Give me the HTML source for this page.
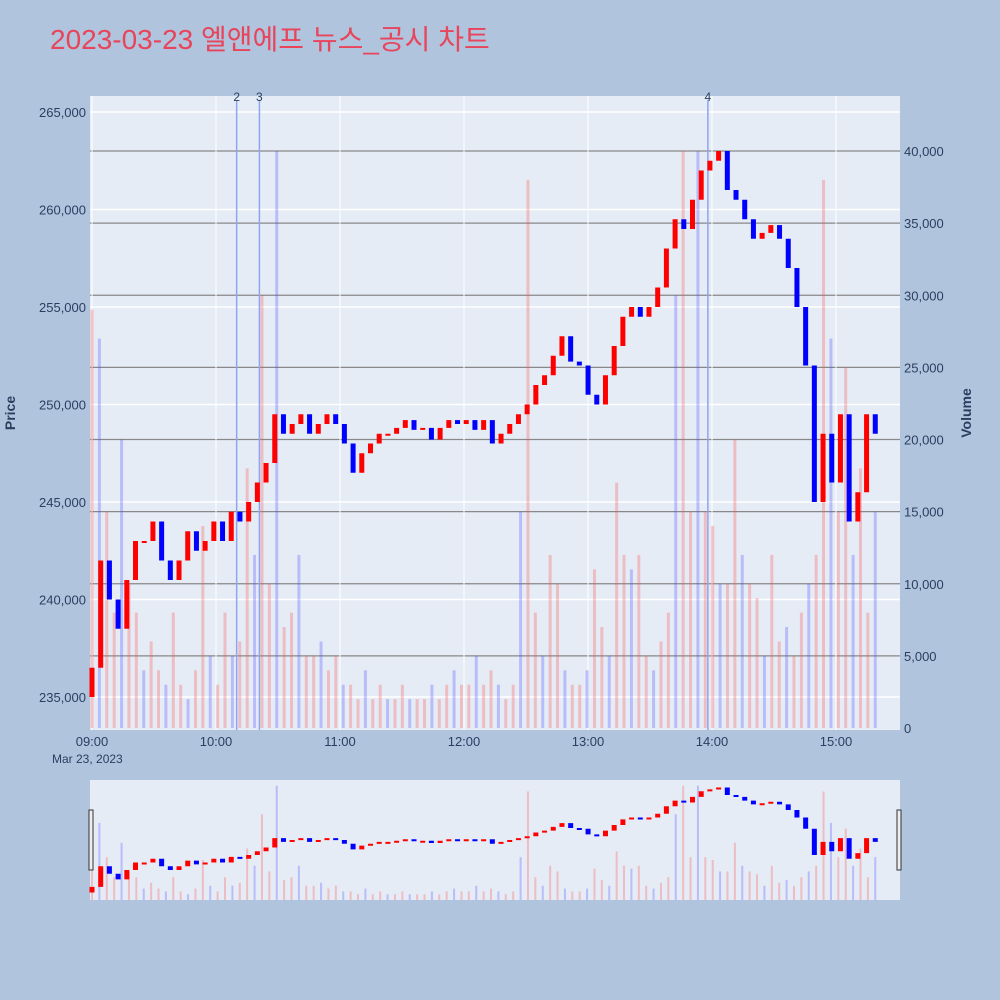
<!DOCTYPE html>
<html><head><meta charset="utf-8"><style>
body{margin:0;background:#b0c4de;font-family:"Liberation Sans","Noto Sans CJK KR",sans-serif;}
svg{display:block}
</style></head><body>
<svg id="chart" width="1000" height="1000" xmlns="http://www.w3.org/2000/svg" font-family="Liberation Sans, Noto Sans CJK KR, sans-serif">
<rect width="1000" height="1000" fill="#b0c4de"/>
<text x="50" y="49" font-size="28" fill="#e8445a">2023-03-23 엘앤에프 뉴스_공시 차트</text>
<rect x="90" y="96" width="810" height="634" fill="#e5ecf6"/>
<rect x="90" y="780" width="810" height="120" fill="#e5ecf6"/>
<g id="grid"></g><g id="vol"></g><g id="candles"></g><g id="mini"></g><g id="axes"></g>
<text transform="translate(15,413) rotate(-90)" text-anchor="middle" font-size="14" font-weight="bold" fill="#2a3f5f">Price</text>
<text transform="translate(971,413) rotate(-90)" text-anchor="middle" font-size="14" font-weight="bold" fill="#2a3f5f">Volume</text>
<rect x="89" y="810" width="4" height="60" fill="#eee" stroke="#333"/>
<rect x="897" y="810" width="4" height="60" fill="#eee" stroke="#333"/>
</svg>
<script>
const closes=[236500,242000,240000,238500,241000,243000,243000,244000,242000,241000,242000,243500,242500,243000,244000,243000,244500,244000,245000,246000,247000,249500,248500,249000,249500,248500,249000,249500,249000,248000,246500,247500,248000,248500,248500,248800,249200,248700,248800,248200,248800,249200,249000,249200,248700,249200,248000,248500,249000,249500,250000,251000,251500,252500,253500,252200,252000,250500,250000,251500,253000,254500,255000,254500,255000,256000,258000,259500,259000,260500,262000,262500,263000,261000,260500,259500,258500,258800,259200,258500,257000,255000,252000,245000,248500,246000,249500,244000,245500,249500,248500];
const openFirst=235000;
const volumes=[29000,27000,15000,8000,20000,10000,8000,4000,6000,4000,3000,8000,3000,2000,4000,14000,5000,3000,8000,5000,6000,18000,12000,30000,10000,40000,7000,8000,12000,5000,5000,6000,4000,5000,3000,3000,2000,4000,2000,3000,2000,2000,3000,2000,2000,2000,3000,2000,3000,4000,3000,3000,5000,3000,4000,3000,2000,3000,15000,38000,8000,5000,12000,10000,4000,3000,3000,4000,11000,7000,5000,17000,12000,11000,12000,5000,4000,6000,8000,30000,40000,15000,40000,15000,14000,10000,10000,20000,12000,10000,9000,5000,12000,6000,7000,5000,8000,10000,12000,38000,27000,15000,25000,12000,18000,8000,15000];
const priceTicks=[235000,240000,245000,250000,255000,260000,265000];
const volTicks=[0,5000,10000,15000,20000,25000,30000,35000,40000];
const timeTicks=["09:00","10:00","11:00","12:00","13:00","14:00","15:00"];
const annotations=[{label:"2",min:70},{label:"3",min:81},{label:"4",min:298}];

const NS="http://www.w3.org/2000/svg";
function mk(p,t,a){const e=document.createElementNS(NS,t);for(const k in a)e.setAttribute(k,a[k]);document.getElementById(p).appendChild(e);return e;}
const xT=m=>92+m*124/60;
const yP=p=>697-(p-235000)/5000*97.5;
const yV=v=>728-v/10000*144.25;
const span=379;
priceTicks.forEach(p=>{const l=mk('grid','line',{x1:90,x2:900,y1:yP(p),y2:yP(p),stroke:'#fff','stroke-width':1.5});

const t=mk('axes','text',{x:86,y:yP(p)+5,'text-anchor':'end','font-size':13,fill:'#2a3f5f'});t.textContent=p.toLocaleString('en-US');
});
volTicks.forEach(v=>{if(v>0){const l=mk('grid','line',{x1:90,x2:900,y1:yV(v),y2:yV(v),stroke:'#888','stroke-width':1.2});
}
const t=mk('axes','text',{x:904,y:yV(v)+5,'font-size':13,fill:'#2a3f5f'});t.textContent=v.toLocaleString('en-US');
});
timeTicks.forEach((s,i)=>{const x=xT(i*60);const l=mk('grid','line',{x1:x,x2:x,y1:96,y2:730,stroke:'#fff','stroke-width':1});

const t=mk('axes','text',{x:x,y:746,'text-anchor':'middle','font-size':13,fill:'#2a3f5f'});t.textContent=s;
});
{const t=mk('axes','text',{x:52,y:763,'font-size':12,fill:'#2a3f5f'});t.textContent='Mar 23, 2023';
}
annotations.forEach(a=>{const x=xT(a.min);const l=mk('grid','line',{x1:x,x2:x,y1:100,y2:730,stroke:'#8fa6ef','stroke-width':1.5});

const t=mk('axes','text',{x:x,y:101,'text-anchor':'middle','font-size':12,fill:'#2a3f5f'});t.textContent=a.label;
});
const vs=span/(volumes.length-1);
volumes.forEach((v,i)=>{const x=xT(i*vs);const up=i%3!==1;
const r=mk('vol','rect',{x:x-1.5,y:yV(v),width:3,height:728-yV(v),fill:up?'rgba(255,80,80,0.3)':'rgba(80,80,255,0.3)'});

const my=900-v/42000*120;
const r2=mk('mini','rect',{x:x-1,y:my,width:2,height:900-my,fill:up?'rgba(255,80,80,0.3)':'rgba(80,80,255,0.3)'});
});
const cs=span/(closes.length-1);
closes.forEach((c,i)=>{const o=i?closes[i-1]:openFirst;const x=xT(i*cs);const col=c>=o?'#ff0000':'#0000ff';
const y1=yP(Math.max(o,c)),y2=yP(Math.min(o,c));
const r=mk('candles','rect',{x:x-2.5,y:y1,width:5,height:Math.max(2,y2-y1),fill:col});

const my1=900-(Math.max(o,c)-233000)/32000*120,my2=900-(Math.min(o,c)-233000)/32000*120;
const r2=mk('mini','rect',{x:x-2.5,y:my1,width:5,height:Math.max(2,my2-my1),fill:col});
});
</script>
</body></html>
